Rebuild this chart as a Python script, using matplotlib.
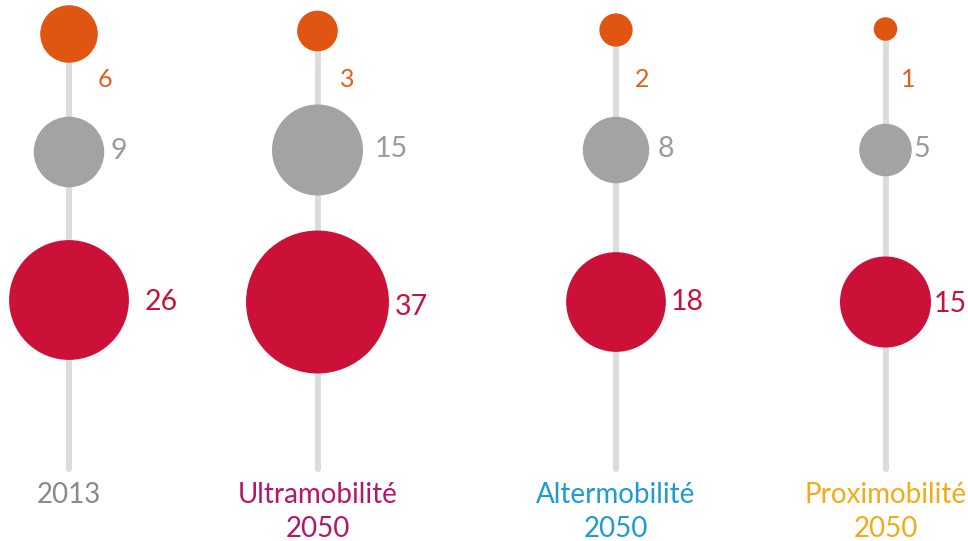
import numpy as np
import matplotlib
matplotlib.use("Agg")
import matplotlib.pyplot as plt
from matplotlib.patches import Circle

# ---- data ----
scenarios = ["2013", "Ultramobilité\n2050", "Altermobilité\n2050", "Proximobilité\n2050"]
orange_vals = [6, 3, 2, 1]
gray_vals = [9, 15, 8, 5]
red_vals = [26, 37, 18, 15]

# ---- layout / style ----
W, H = 968, 541
col_x = [69, 317.5, 616, 885.5]
orange_y = [34, 31, 30, 29]
gray_y = [152, 150, 150, 150]
red_y = [300, 302, 302, 302]
k = 11.75  # radius (px) per sqrt(value)
line_bottom = 469

c_orange = "#E05512"
c_gray = "#A3A3A3"
c_red = "#CC1138"
c_line = "#DCDCDC"
c_orange_txt = "#E0601C"
c_gray_txt = "#9A9A9A"
title_colors = ["#8A8A8A", "#B5166B", "#1E9AD6", "#F5AA14"]

gap_orange = [0, 2, 2, 4]
gap_gray = [6, 12, 8, 2]
gap_red = [16, 6, 5, 3]
base_orange = 87
base_gray = [159, 157, 157, 157]
base_red = [310, 315, 310, 312]

plt.rcParams["font.family"] = ["Lato", "DejaVu Sans"]

fig = plt.figure(figsize=(W / 100, H / 100), dpi=100)
ax = fig.add_axes([0, 0, 1, 1])
ax.set_xlim(0, W)
ax.set_ylim(H, 0)
ax.set_aspect("equal")
ax.axis("off")

lw_pt = 6 * 72 / 100
for i, cx in enumerate(col_x):
    ax.plot([cx, cx], [orange_y[i], line_bottom], color=c_line, lw=lw_pt,
            solid_capstyle="round", zorder=1)
    ro = k * np.sqrt(orange_vals[i])
    rg = k * np.sqrt(gray_vals[i])
    rr = k * np.sqrt(red_vals[i])
    ax.add_patch(Circle((cx, orange_y[i]), ro, color=c_orange, lw=0, zorder=2))
    ax.add_patch(Circle((cx, gray_y[i]), rg, color=c_gray, lw=0, zorder=2))
    ax.add_patch(Circle((cx, red_y[i]), rr, color=c_red, lw=0, zorder=2))
    ax.text(cx + ro + gap_orange[i], base_orange, str(orange_vals[i]), color=c_orange_txt,
            fontsize=18, ha="left", va="baseline")
    ax.text(cx + rg + gap_gray[i], base_gray[i], str(gray_vals[i]), color=c_gray_txt,
            fontsize=20.5, ha="left", va="baseline")
    ax.text(cx + rr + gap_red[i], base_red[i], str(red_vals[i]), color=c_red,
            fontsize=20.5, ha="left", va="baseline")
    lines = scenarios[i].split("\n")
    for j, ln in enumerate(lines):
        ax.text(cx, 503 + 34 * j, ln, color=title_colors[i], fontsize=20,
                ha="center", va="baseline")

fig.savefig("out.png", dpi=100)
